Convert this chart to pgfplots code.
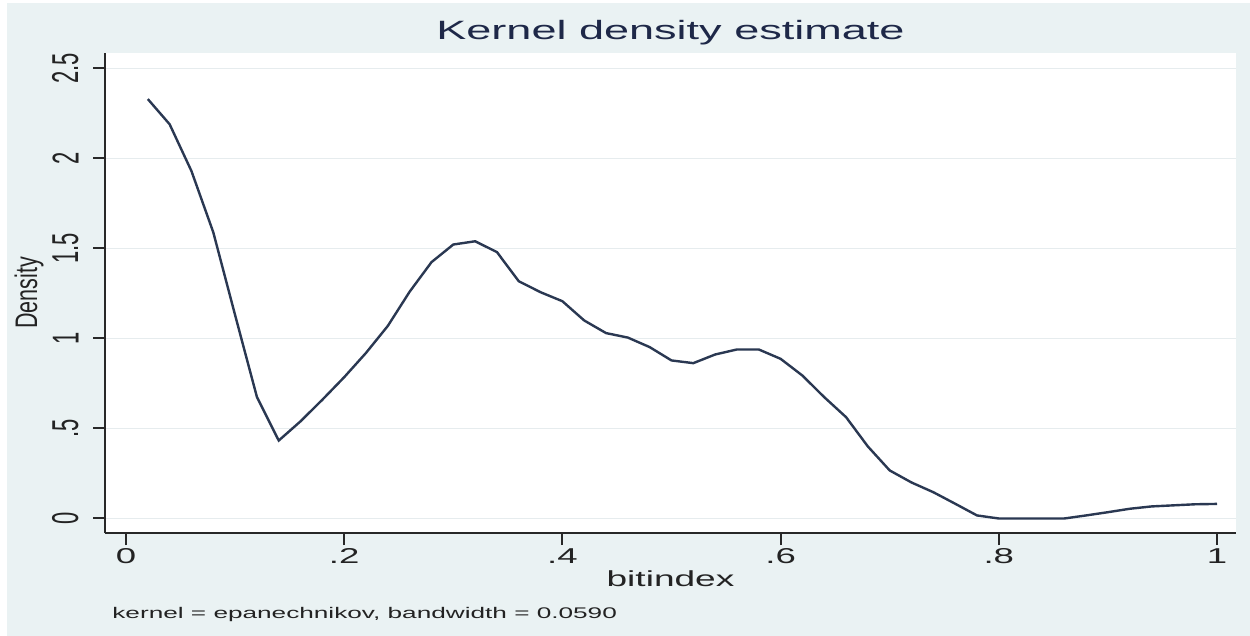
\documentclass[border=0pt]{standalone}
\usepackage{pgfplots}
\pgfplotsset{compat=1.18}
\usepackage{pgfplotstable}
\usepackage{graphicx}
\usepackage{fontspec}
\setmainfont{Liberation Sans}
\newfontfamily\hfont{Liberation Sans}[FakeStretch=1.7]
\definecolor{bgc}{RGB}{234,242,243}
\definecolor{linec}{RGB}{42,56,82}
\definecolor{titc}{RGB}{30,40,72}
\definecolor{txtc}{RGB}{35,35,35}
\definecolor{axc}{RGB}{40,40,40}
\definecolor{gridc}{RGB}{230,236,238}
\newcommand{\vs}[1]{\rotatebox{90}{\scalebox{1}[1.7]{#1}}}
\newcommand{\vsl}[1]{\rotatebox{90}{\scalebox{1}[1.45]{#1}}}

\pgfplotstableread{
x y
0.02 2.33
0.04 2.19
0.06 1.93
0.08 1.59
0.10 1.13
0.12 0.675
0.14 0.433
0.16 0.54
0.18 0.66
0.20 0.785
0.22 0.92
0.24 1.07
0.26 1.26
0.28 1.424
0.30 1.522
0.32 1.54
0.34 1.48
0.36 1.318
0.38 1.257
0.40 1.207
0.42 1.10
0.44 1.03
0.46 1.005
0.48 0.952
0.50 0.878
0.52 0.863
0.54 0.911
0.56 0.939
0.58 0.939
0.60 0.887
0.62 0.794
0.64 0.674
0.66 0.563
0.68 0.40
0.70 0.267
0.72 0.20
0.74 0.146
0.76 0.082
0.78 0.017
0.80 0.0
0.82 0.0
0.84 0.0
0.86 0.0
0.88 0.017
0.90 0.035
0.92 0.054
0.94 0.067
0.96 0.073
0.98 0.079
1.00 0.081
}\kde

\begin{document}
\begin{tikzpicture}
\fill[white] (-52.5bp,-51.5bp) rectangle (572.5bp,266.5bp);
\fill[bgc] (-49bp,-51.5bp) rectangle (572.5bp,265bp);
\path[use as bounding box] (-52.5bp,-51.5bp) rectangle (572.5bp,266.5bp);
\begin{axis}[
  at={(0,0)}, anchor=south west,
  scale only axis, width=565.5bp, height=240bp,
  xmin=-0.01925, xmax=1.01742, ymin=-0.0806, ymax=2.586,
  axis background/.style={fill=white},
  axis x line*=bottom, axis y line*=left,
  axis line style={line width=1bp, color=axc},
  tick align=outside, major tick length=6bp,
  tick style={line width=1bp, color=axc},
  xtick={0,0.2,0.4,0.6,0.8,1},
  xticklabels={0,.2,.4,.6,.8,1},
  ytick={0,0.5,1,1.5,2,2.5},
  yticklabels={\vs{0},\vs{.5},\vs{1},\vs{1.5},\vs{2},\vs{2.5}},
  ymajorgrids, major grid style={line width=0.6bp, color=gridc},
  xticklabel style={font=\hfont\fontsize{10.75bp}{12bp}\selectfont, text=txtc, anchor=base, inner sep=0pt, yshift=-9bp},
  yticklabel style={font=\fontsize{11bp}{12bp}\selectfont, text=txtc, anchor=east, inner sep=0pt, xshift=-7bp},
  every axis title shift=0pt,
  title={Kernel density estimate},
  title style={at={(0.5,1)}, anchor=base, yshift=6.75bp, inner sep=0pt,
    font=\hfont\fontsize{13.25bp}{15bp}\selectfont, text=titc},
  xlabel={bitindex},
  xlabel style={at={(axis description cs:0.5,0)}, anchor=base, yshift=-26.75bp, inner sep=0pt,
    font=\hfont\fontsize{10.9bp}{12bp}\selectfont, text=txtc},
  ylabel={\vsl{Density}},
  ylabel style={at={(axis description cs:0,0.5)}, rotate=-90, anchor=east, xshift=-30.5bp, inner sep=0pt,
    font=\fontsize{10.75bp}{12bp}\selectfont, text=txtc},
]
\addplot[color=linec, line width=1.2bp, mark=none] table[x=x, y=y] {\kde};
\end{axis}
\node[anchor=base west, inner sep=0pt, text=txtc, font=\hfont\fontsize{7.7bp}{9bp}\selectfont] at (3.5bp,-42.5bp) {kernel = epanechnikov, bandwidth = 0.0590};
\end{tikzpicture}
\end{document}
